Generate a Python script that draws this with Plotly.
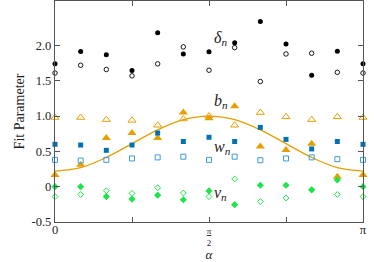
import numpy as np
import plotly.graph_objects as go

alpha = [i * np.pi / 12 for i in range(13)]

delta_filled = [1.74, 1.915, 1.87, 1.645, 2.18, 1.88, 1.91, 2.04, 2.34, 2.02, 1.58, 1.92, 1.74]
delta_open = [1.61, 1.72, 1.66, 1.57, 1.74, 1.98, 1.65, 1.97, 1.49, 1.88, 1.89, 1.62, 1.61]

b_filled = [0.165, 0.31, 0.69, 0.76, 0.69, 1.05, 0.97, 1.14, 0.57, 0.52, 0.61, 0.14, 0.165]
b_open = [0.98, 0.98, 0.95, 0.94, 0.87, 0.96, 1.0, 0.87, 1.05, 0.99, 0.95, 0.99, 0.98]
b_curve = [0.22, 0.27, 0.415, 0.61, 0.805, 0.95, 1.0, 0.95, 0.805, 0.61, 0.415, 0.27, 0.22]

w_filled = [0.6, 0.59, 0.515, 0.59, 0.76, 0.64, 0.70, 0.64, 0.84, 0.67, 0.535, 0.64, 0.6]
w_open = [0.38, 0.37, 0.38, 0.40, 0.415, 0.425, 0.38, 0.425, 0.375, 0.40, 0.415, 0.39, 0.38]

nu_filled = [0.0, 0.0, -0.14, -0.175, -0.12, -0.185, -0.06, -0.255, 0.02, 0.02, -0.045, 0.095, 0.0]
nu_open = [-0.14, -0.11, -0.057, -0.095, -0.015, -0.09, -0.14, 0.11, -0.21, -0.16, -0.045, -0.11, -0.14]

y_tickvals = [-0.5, 0, 0.5, 1.0, 1.5, 2.0]
y_ticktext = ["-0.5", "0", "0.5", "1.0", "1.5", "2.0"]
x_tickvals = [0, np.pi / 2, np.pi]
x_minor_tickvals = [np.pi / 4, 3 * np.pi / 4]
x_ticktext = ["<span style='font-size:12.5px'>0</span>", "<u>π</u><br>2",
              "<span style='font-size:12.5px'>π</span>"]

labels = ["<i>δ<sub>n</sub></i>", "<i>b<sub>n</sub></i>", "<i>w<sub>n</sub></i>", "<i>ν<sub>n</sub></i>"]
label_y = [2.10, 1.2, 0.55, -0.1]

ORANGE = "#E69F00"
BLUE = "#0072B2"
LBLUE = "#3D9AD8"
GREEN = "#1FE34C"
BLACK = "#000000"
FONT = "Liberation Serif"

fig = go.Figure()

def add(y, symbol, color, size, open_=False, lw=1):
    fig.add_trace(go.Scatter(
        x=alpha, y=y, mode="markers",
        marker=dict(symbol=symbol + ("-open" if open_ else ""), size=size,
                    color=color, line=dict(width=lw, color=color)),
        showlegend=False, cliponaxis=False))

fig.add_trace(go.Scatter(x=alpha, y=b_curve, mode="lines", line=dict(color=ORANGE, width=1.3, shape="spline"),
                         showlegend=False))

add(delta_open, "circle", BLACK, 4.5, True, 0.9)
add(delta_filled, "circle", BLACK, 5, False, 0)
add(b_open, "triangle-up", ORANGE, 7, True, 1)
add(b_filled, "triangle-up", ORANGE, 8, False, 0)
add(w_open, "square", LBLUE, 5, True, 1)
add(w_filled, "square", BLUE, 5, False, 0)
add(nu_open, "diamond", GREEN, 4.5, True, 1)
add(nu_filled, "diamond", GREEN, 5.5, False, 0)

for t, yv in zip(labels, label_y):
    fig.add_annotation(x=1.60, y=yv, text=t, showarrow=False, xanchor="left", yanchor="middle",
                       font=dict(family=FONT, size=16, color="#222"))

axis_common = dict(showline=True, linecolor="#555", linewidth=1.2, mirror="allticks",
                   ticks="inside", ticklen=5, tickcolor="#555", tickwidth=1,
                   showgrid=False, zeroline=False)

fig.update_xaxes(range=[0, np.pi], tickmode="array", tickvals=x_tickvals, ticktext=x_ticktext,
                 minor=dict(tickmode="array", tickvals=x_minor_tickvals, ticks="inside", ticklen=5,
                            tickcolor="#555", tickwidth=1, showgrid=False),
                 tickfont=dict(family=FONT, size=9, color="#222"),
                 title=dict(text="<i>α</i>", font=dict(family=FONT, size=13, color="#222"), standoff=3),
                 **axis_common)
fig.update_yaxes(range=[-0.5, 2.63], tickmode="array", tickvals=y_tickvals, ticktext=y_ticktext,
                 tickfont=dict(family=FONT, size=12.5, color="#222"),
                 title=dict(text="Fit Parameter", font=dict(family=FONT, size=14, color="#222"), standoff=3),
                 **axis_common)

fig.update_layout(width=374, height=262, margin=dict(l=55, r=11, t=1, b=40),
                  plot_bgcolor="white", paper_bgcolor="white")

fig.write_html("out.html", config={"displayModeBar": False, "staticPlot": True},
               post_script="document.body.style.margin='0';document.body.style.overflow='hidden';"
                           "document.documentElement.style.overflow='hidden';")
